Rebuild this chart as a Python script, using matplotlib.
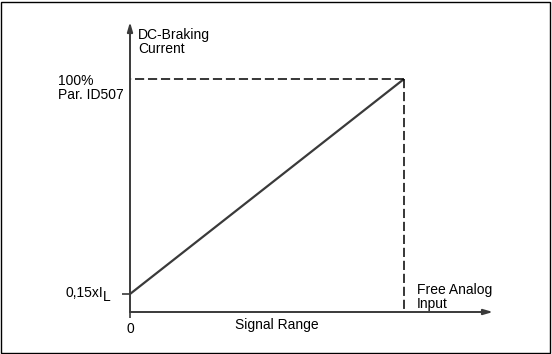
import numpy as np
from matplotlib import pyplot as plt
from matplotlib.patches import Rectangle

plt.rcParams['font.family'] = ['Liberation Sans', 'DejaVu Sans']

# schematic data
signal = [0, 100]          # % of signal range
current = [0.15, 1.0]      # fraction of braking current
y_label = '0,15xI'
y_sub = 'L'
x_labels = ['0']

W, H = 552, 354
fig = plt.figure(figsize=(W / 100, H / 100), dpi=100)

# axes box in pixels: origin at (130, 312), arrow tips at x=492 and y=22
left, bottom, right, top = 130, 312, 493, 22
ax = fig.add_axes([left / W, 1 - bottom / H, (right - left) / W, (bottom - top) / H])

px_x = (404 - 130) / (signal[1] - signal[0])
px_y = (294 - 79) / (current[1] - current[0])
ax.set_xlim(0, (right - left) / px_x)
y0 = current[0] - (bottom - 294) / px_y
ax.set_ylim(y0, y0 + (bottom - top) / px_y)

for s in ax.spines.values():
    s.set_visible(False)

ink = '#3a3a3a'
ax.plot(signal, current, color=ink, lw=1.6, solid_capstyle='butt')
ax.plot([-3, signal[1]], [current[1], current[1]], color='black', lw=1.1,
        dashes=(6, 2.5))
ax.plot([signal[1], signal[1]], [current[1], y0], color='black', lw=1.1,
        dashes=(6, 2.5))

# arrows for axes
arrow = dict(arrowstyle='-|>,head_length=0.55,head_width=0.16', color=ink, lw=1.4,
             shrinkA=0, shrinkB=0)
ax.annotate('', xy=(0, 1), xytext=(0, 0), xycoords='axes fraction',
            textcoords='axes fraction', arrowprops=arrow)
ax.annotate('', xy=(1, 0), xytext=(0, 0), xycoords='axes fraction',
            textcoords='axes fraction', arrowprops=arrow)

ax.set_yticks([current[0]])
ax.set_yticklabels([''])
ax.set_xticks([signal[0]])
ax.set_xticklabels(x_labels, fontsize=10)
ax.tick_params(axis='y', length=6, width=1.2, color=ink, pad=4)
ax.tick_params(axis='x', length=4, width=1.2, color=ink, pad=3)

fs = 10
ax.text(-27 / px_x, current[0] + 1 / px_y, y_label, fontsize=fs,
        va='center', ha='right')
ax.text(-27 / px_x, current[0] - 3 / px_y, y_sub, fontsize=fs,
        va='center', ha='left')
ax.text(8 / px_x, 1.0 + 37 / px_y, 'DC-Braking\nCurrent', fontsize=fs,
        va='center', ha='left', linespacing=1.05)
ax.text(-72 / px_x, 1.0 - 9 / px_y, '100%\nPar. ID507', fontsize=fs,
        va='center', ha='left', linespacing=1.05)
ax.text(signal[1] + 13 / px_x, y0 + 15 / px_y, 'Free Analog\nInput', fontsize=fs,
        va='center', ha='left', linespacing=1.05)
ax.text(147 / px_x, y0 - 13 / px_y, 'Signal Range', fontsize=fs,
        va='center', ha='center')

fig.patches.append(Rectangle((1 / W, 1 / H), (W - 3) / W, (H - 3) / H,
                             transform=fig.transFigure, fill=False,
                             ec='black', lw=1.0))

fig.savefig('out.png', dpi=100)
